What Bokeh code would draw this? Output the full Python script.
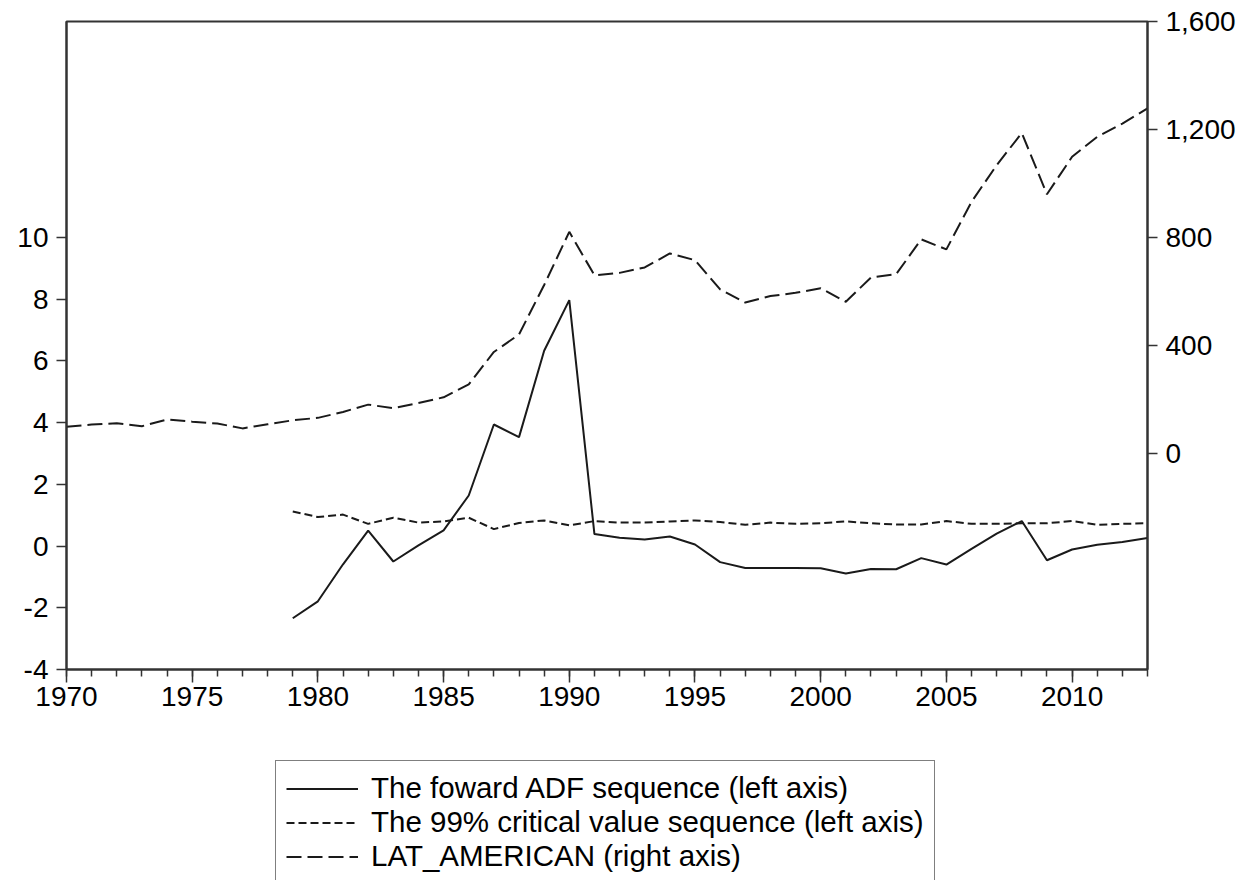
from bokeh.plotting import figure
from bokeh.layouts import column
from bokeh.models import (Range1d, LinearAxis, FixedTicker, SingleIntervalTicker,
                          NumeralTickFormatter, CustomJSTickFormatter, Legend, LegendItem)
from bokeh.embed import file_html
from bokeh.resources import INLINE

years_lat = list(range(1970, 2014))
lat_american = [99, 107, 112, 101, 126, 118, 111, 93, 108, 123,
                132, 154, 181, 168, 187, 208, 256, 376, 441, 624,
                821, 660, 669, 689, 741, 716, 608, 559, 583, 595,
                612, 562, 652, 664, 793, 756, 932, 1068, 1187, 960,
                1099, 1173, 1222, 1278]

years_adf = list(range(1979, 2014))
adf_forward = [-2.34, -1.79, -0.59, 0.50, -0.50, 0.02, 0.51, 1.64, 3.94, 3.53,
               6.33, 7.97, 0.39, 0.27, 0.21, 0.31, 0.05, -0.52, -0.71, -0.71,
               -0.71, -0.72, -0.89, -0.74, -0.75, -0.39, -0.60, -0.09, 0.40, 0.81,
               -0.46, -0.11, 0.04, 0.13, 0.26]
crit_99 = [1.12, 0.94, 1.02, 0.72, 0.92, 0.76, 0.80, 0.92, 0.55, 0.75,
           0.83, 0.67, 0.81, 0.76, 0.76, 0.80, 0.83, 0.78, 0.69, 0.76,
           0.72, 0.74, 0.80, 0.74, 0.70, 0.70, 0.81, 0.72, 0.72, 0.74,
           0.74, 0.81, 0.69, 0.72, 0.74]

left_ticks = [-4, -2, 0, 2, 4, 6, 8, 10]
right_ticks = [0, 400, 800, 1200, 1600]
labels = ["The foward ADF sequence (left axis)",
          "The 99% critical value sequence (left axis)",
          "LAT_AMERICAN (right axis)"]

FONT = "Liberation Sans"
AX = "#333333"
LC = "#1a1a1a"
W = 1248
H1 = 719
H2 = 880 - H1

p = figure(width=W, height=H1, x_range=Range1d(1970, 2013), y_range=Range1d(-4, 17),
           output_backend="svg", toolbar_location=None,
           min_border_left=66, min_border_right=101, min_border_top=21, min_border_bottom=50)
p.extra_y_ranges = {"right": Range1d(-800, 1600)}
p.xgrid.visible = False
p.ygrid.visible = False
p.outline_line_color = AX
p.outline_line_width = 2

xa = p.xaxis[0]
xa.ticker = SingleIntervalTicker(interval=5, num_minor_ticks=5)
xa.formatter = CustomJSTickFormatter(code="return String(tick);")
ya = p.yaxis[0]
ya.ticker = FixedTicker(ticks=left_ticks)
ya.formatter = CustomJSTickFormatter(code="return String(tick);")
ra = LinearAxis(y_range_name="right", ticker=FixedTicker(ticks=right_ticks),
                formatter=NumeralTickFormatter(format="0,0"))
p.add_layout(ra, "right")

for ax in (xa, ya, ra):
    ax.axis_line_color = AX
    ax.axis_line_width = 2
    ax.major_tick_line_color = AX
    ax.minor_tick_line_color = AX
    ax.major_tick_line_width = 1.5
    ax.minor_tick_line_width = 1.5
    ax.major_tick_in = 0
    ax.minor_tick_in = 0
    ax.major_label_text_font = FONT
    ax.major_label_text_font_size = "28px"
    ax.major_label_text_color = "black"
for ax in (ya, ra):
    ax.major_tick_out = 10
    ax.minor_tick_out = 0
    ax.minor_tick_line_color = None
    ax.major_label_standoff = 8
xa.major_tick_out = 13
xa.minor_tick_out = 7
xa.major_label_standoff = 4

r1 = p.line(years_adf, adf_forward, line_color=LC, line_width=2)
r2 = p.line(years_adf, crit_99, line_color=LC, line_width=2, line_dash="8 4")
r3 = p.line(years_lat, lat_american, line_color=LC, line_width=2, line_dash="15 6",
            y_range_name="right")

# legend panel below the chart (series drawn out of view; only the legend shows)
q = figure(width=W, height=H2, x_range=Range1d(0, 1), y_range=Range1d(0, 1),
           output_backend="svg", toolbar_location=None,
           x_axis_location=None, y_axis_location=None,
           min_border_left=0, min_border_right=0, min_border_top=0, min_border_bottom=0)
q.xgrid.visible = False
q.ygrid.visible = False
q.outline_line_color = None
g1 = q.line(years_adf, adf_forward, line_color=LC, line_width=2)
g2 = q.line(years_adf, crit_99, line_color=LC, line_width=2, line_dash="8 4")
g3 = q.line(years_lat, lat_american, line_color=LC, line_width=2, line_dash="15 6")

legend = Legend(items=[LegendItem(label=labels[0], renderers=[g1]),
                       LegendItem(label=labels[1], renderers=[g2]),
                       LegendItem(label=labels[2], renderers=[g3])],
                location=(209, -4))
legend.label_text_font = FONT
legend.label_text_font_size = "29.5px"
legend.label_text_color = "black"
legend.glyph_width = 72
legend.glyph_height = 33
legend.label_height = 33
legend.label_standoff = 13
legend.spacing = 0
legend.padding = 10
legend.margin = 0
legend.border_line_color = "black"
legend.border_line_width = 1.5
legend.background_fill_alpha = 1
q.add_layout(legend)

layout = column(p, q, spacing=0)
open("out.html", "w").write(file_html(layout, INLINE))
